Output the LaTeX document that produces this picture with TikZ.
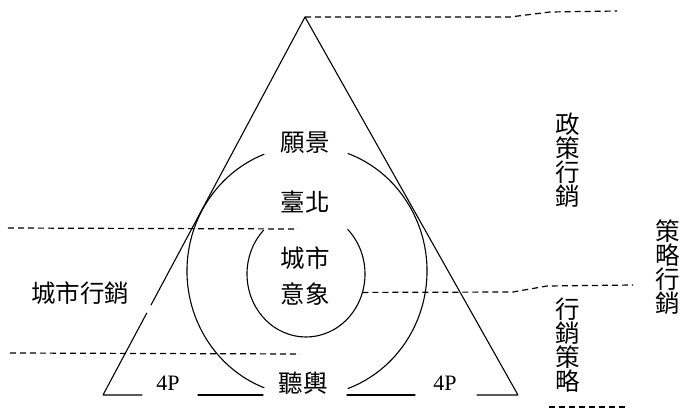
\documentclass[tikz,border=0pt]{standalone}
\usepackage{fontspec}
\setmainfont{Liberation Serif}
\newfontfamily\cjk{Noto Sans CJK TC}
\begin{document}
\begin{tikzpicture}[x=1pt,y=-1pt,
  solidline/.style={line width=1.1pt, line cap=round, line join=round},
  dashline/.style={line width=1.2pt, dash pattern=on 6pt off 4pt},
  cjklabel/.style={font=\cjk\fontsize{24.5}{24}\selectfont, inner sep=0pt, align=center},
  plabel/.style={font=\fontsize{22}{24}\selectfont, inner sep=0pt}]
\useasboundingbox (0,0) rectangle (680,409);

% triangle points
\coordinate (A) at (305,17);
\coordinate (BL) at (103,395);
\coordinate (BR) at (518,395);
\coordinate (L1) at (151,305);
\coordinate (L2) at (146.8,313);
\coordinate (b1) at (142,395);
\coordinate (b2) at (198,395);
\coordinate (b3) at (263,395);
\coordinate (b4) at (347,395);
\coordinate (b5) at (415,395);
\coordinate (b6) at (477,395);

\draw[solidline] (L1) -- (A) -- (BR) -- (b6);
\draw[solidline] (L2) -- (BL) -- (b1);
\draw[solidline] (b2) -- (b3);
\draw[solidline] (b4) -- (b5);

% outer circle (two arcs)
\coordinate (oc) at (307,271);
\draw[solidline] (oc) ++(111:120 and 125) arc[start angle=111, end angle=249, x radius=120, y radius=125];
\draw[solidline] (oc) ++(-70:120 and 125) arc[start angle=-70, end angle=70, x radius=120, y radius=125];

% inner circle
\coordinate (ic) at (306,274);
\draw[solidline] (ic) ++(-45:59 and 63) arc[start angle=-45, end angle=224, x radius=59, y radius=63];
\path (ic) ++(17:59 and 63) coordinate (ir);

% dashed lines
\coordinate (t1) at (510,17);
\coordinate (t2) at (550,12);
\coordinate (t3) at (617,11);
\draw[dashline] (A) -- (t1) -- (t2) -- (t3);

\coordinate (u1) at (8,228);
\coordinate (u2) at (298,229);
\draw[dashline] (u1) -- (u2);

\coordinate (w1) at (10,353);
\coordinate (w2) at (300,354);
\draw[dashline] (w1) -- (w2);

\coordinate (r1) at (513,292);
\coordinate (r2) at (547,286);
\coordinate (r3) at (633,285);
\draw[dashline] (ir) -- (r1) -- (r2) -- (r3);

\coordinate (s1) at (549,407);
\coordinate (s2) at (626,407);
\draw[dashline] (s1) -- (s2);

% labels
\node[cjklabel] (vision) at (305,143) {願景};
\node[cjklabel] (taipei) at (305,202) {臺北};
\node[cjklabel] (city) at (305,258) {城市};
\node[cjklabel] (image) at (305,294) {意象};
\node[cjklabel] (public) at (303,383) {聽輿};
\node[plabel] (p4l) at (168,383) {4P};
\node[plabel] (p4r) at (445,383) {4P};
\node[cjklabel] (citymkt) at (80,293) {城市行銷};
\node[cjklabel] (policy) at (568,160) {政\\策\\行\\銷};
\node[cjklabel] (mktstr) at (568,345) {行\\銷\\策\\略};
\node[cjklabel] (strmkt) at (668,267) {策\\略\\行\\銷};
\end{tikzpicture}
\end{document}
